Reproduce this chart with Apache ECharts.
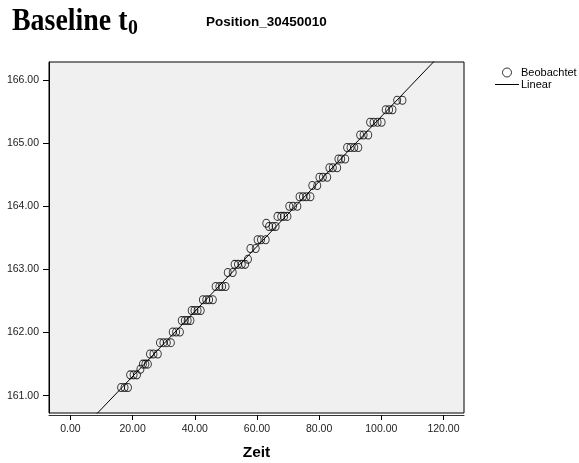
<!DOCTYPE html>
<html>
<head>
<meta charset="utf-8">
<script src="https://cdn.jsdelivr.net/npm/echarts@6/dist/echarts.min.js"></script>
<style>html,body{margin:0;padding:0;background:#fff;}#c{width:579px;height:463px;}</style>
</head>
<body>
<div id="c"></div>
<script>
const zeit = [
  16.3, 17.4, 18.5,
  19.2, 20.3, 21.4, 22.5,
  23.3, 24.1, 24.9,
  25.6, 26.7, 28.1,
  28.8, 29.9, 31.0, 32.3,
  32.9, 34.0, 35.2,
  35.8, 36.8, 37.7, 38.6,
  39.0, 39.9, 40.9, 41.9,
  42.6, 43.7, 44.6, 45.8,
  46.7, 47.9, 48.8, 49.9,
  50.6, 52.2,
  52.8, 53.9, 55.1, 56.2, 57.1,
  57.9, 59.6,
  60.2, 61.3, 62.8,
  63.0, 63.9, 65.0, 66.0,
  66.6, 67.8, 68.7, 69.8,
  70.4, 71.6, 73.0,
  73.7, 74.8, 75.9, 77.2,
  77.8, 79.4,
  80.1, 81.2, 82.6,
  83.3, 84.4, 85.8,
  86.2, 87.1, 88.4,
  89.0, 90.1, 91.3, 92.6,
  93.2, 94.3, 95.8,
  96.4, 97.5, 98.8, 100.1,
  101.4, 102.5, 103.6,
  105.1, 106.8
];
const beobachtet = [
  161.13, 161.13, 161.13,
  161.33, 161.33, 161.33, 161.42,
  161.50, 161.50, 161.50,
  161.66, 161.66, 161.66,
  161.84, 161.84, 161.84, 161.84,
  162.01, 162.01, 162.01,
  162.19, 162.19, 162.19, 162.19,
  162.35, 162.35, 162.35, 162.35,
  162.52, 162.52, 162.52, 162.52,
  162.73, 162.73, 162.73, 162.73,
  162.95, 162.95,
  163.08, 163.08, 163.08, 163.08, 163.16,
  163.33, 163.33,
  163.47, 163.47, 163.47,
  163.73, 163.68, 163.68, 163.68,
  163.84, 163.84, 163.84, 163.84,
  164.00, 164.00, 164.00,
  164.15, 164.15, 164.15, 164.15,
  164.33, 164.33,
  164.46, 164.46, 164.46,
  164.61, 164.61, 164.61,
  164.75, 164.75, 164.75,
  164.93, 164.93, 164.93, 164.93,
  165.13, 165.13, 165.13,
  165.33, 165.33, 165.33, 165.33,
  165.53, 165.53, 165.53,
  165.68, 165.68
];
const xTicks = [0, 20, 40, 60, 80, 100, 120];
const yTicks = [161, 162, 163, 164, 165, 166];

// linear fit (least squares) of the observed values
const n = zeit.length;
let sx = 0, sy = 0, sxx = 0, sxy = 0;
for (let i = 0; i < n; i++) { sx += zeit[i]; sy += beobachtet[i]; sxx += zeit[i]*zeit[i]; sxy += zeit[i]*beobachtet[i]; }
const slope = (n*sxy - sx*sy) / (n*sxx - sx*sx);
const icpt = (sy - slope*sx) / n;

const xMin = -6.9, xMax = 126.6, yMin = 160.726, yMax = 166.285;
const fitLine = [[xMin, icpt + slope*xMin], [xMax, icpt + slope*xMax]];
const points = zeit.map((x, i) => [x, beobachtet[i]]);

const chart = echarts.init(document.getElementById('c'), null, {renderer: 'canvas'});
const sans = '"Liberation Sans", Arial, sans-serif';
chart.setOption({
  animation: false,
  backgroundColor: '#fff',
  graphic: [
    {type: 'text', left: 12, top: 6, scaleX: 0.9, style: {text: 'Baseline t', font: 'bold 31px "Liberation Serif", serif', fill: '#000'}},
    {type: 'text', left: 128, top: 17, scaleX: 0.9, style: {text: '0', font: 'bold 22px "Liberation Serif", serif', fill: '#000'}},
    {type: 'text', left: 206, top: 15, style: {text: 'Position_30450010', font: 'bold 13.5px ' + sans, fill: '#000'}}
  ],
  legend: {
    orient: 'vertical', left: 495, top: 67, padding: 0, itemWidth: 24, itemHeight: 9, itemGap: 1,
    textStyle: {fontFamily: sans, fontSize: 11, color: '#000', padding: [0, 0, 0, -3]},
    data: [
      {name: 'Beobachtet', icon: 'circle', itemStyle: {color: 'rgba(0,0,0,0)', borderColor: '#000', borderWidth: 1}},
      {name: 'Linear', icon: 'path://M0,4 L24,4 L24,5 L0,5 Z', itemStyle: {color: '#000', borderWidth: 0}}
    ]
  },
  grid: {left: 49, top: 62, width: 415, height: 351, show: true, containLabel: false, outerBoundsMode: 'none',
         backgroundColor: '#f0f0f0', borderColor: '#000', borderWidth: 1},
  xAxis: {
    type: 'value', min: xMin, max: xMax, offset: 2,
    name: 'Zeit', nameLocation: 'middle', nameGap: 30,
    nameTextStyle: {fontFamily: sans, fontSize: 15.5, fontWeight: 'bold', color: '#000'},
    axisLine: {show: true, onZero: false, lineStyle: {color: '#333', width: 1}},
    axisTick: {show: true, length: 5, customValues: xTicks, lineStyle: {color: '#000'}},
    axisLabel: {customValues: xTicks, margin: 9, fontFamily: sans, fontSize: 10.5, color: '#222', formatter: v => v.toFixed(2)},
    splitLine: {show: false}
  },
  yAxis: {
    type: 'value', min: yMin, max: yMax,
    axisLine: {show: true, onZero: false, lineStyle: {color: '#000', width: 1}},
    axisTick: {show: true, length: 6, customValues: yTicks, lineStyle: {color: '#000'}},
    axisLabel: {customValues: yTicks, margin: 10, fontFamily: sans, fontSize: 10.5, color: '#222', formatter: v => v.toFixed(2)},
    splitLine: {show: false}
  },
  series: [
    {
      name: 'Beobachtet', type: 'scatter', data: points, symbol: 'circle', symbolSize: [7, 8],
      itemStyle: {color: 'rgba(0,0,0,0)', borderColor: '#000', borderWidth: 1}, silent: true
    },
    {
      name: 'Linear', type: 'line', data: fitLine, symbol: 'none', clip: true,
      lineStyle: {color: '#000', width: 1}, itemStyle: {color: '#000'}, silent: true
    }
  ]
});
</script>
</body>
</html>
